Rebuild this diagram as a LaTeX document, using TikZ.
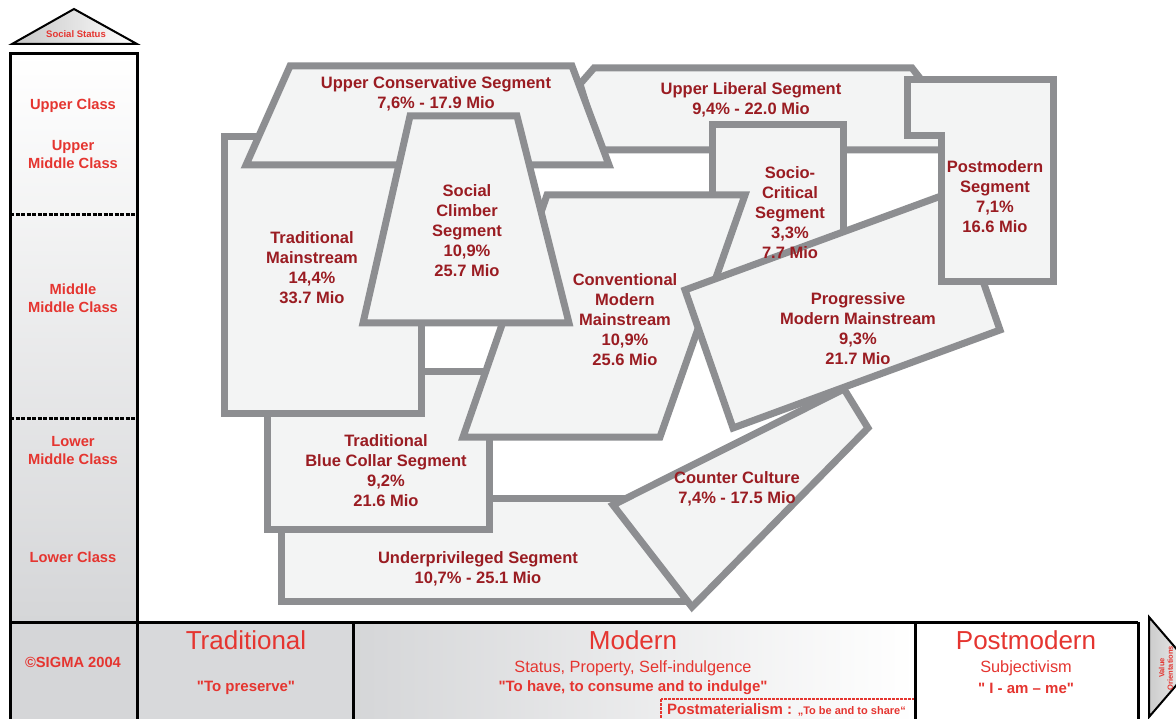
\documentclass[tikz,border=0pt]{standalone}
\usepackage{fontspec}
\setmainfont{Liberation Sans}[Ligatures=TeXOff]
\definecolor{segline}{HTML}{8D8E91}
\definecolor{segfill}{HTML}{F3F4F4}
\definecolor{segtext}{HTML}{9A1C22}
\definecolor{axisred}{HTML}{E53530}
\definecolor{panelgray}{HTML}{D5D6D8}
\newcommand\segfont{\bfseries\fontsize{16.5}{20}\selectfont}
\newcommand\classfont{\bfseries\fontsize{14.7}{18}\selectfont}
\newcommand\epochfont{\fontsize{26}{30}\selectfont}
\newcommand\valuefont{\fontsize{16.3}{19}\selectfont}
\newcommand\mottofont{\bfseries\fontsize{15}{18}\selectfont}
\tikzset{
  seg/.style={draw=segline, fill=segfill, line width=7pt, line join=miter},
  seglabel/.style={text=segtext, font=\segfont, align=center, inner sep=0pt},
  classlabel/.style={text=axisred, font=\classfont, align=center, inner sep=0pt},
  frame/.style={draw=black, line width=3pt},
  classsep/.style={draw=black, line width=3pt, dash pattern=on 4pt off 1.5pt},
  epoch/.style={text=axisred, font=\epochfont, inner sep=0pt},
  valuetext/.style={text=axisred, font=\valuefont, inner sep=0pt},
  motto/.style={text=axisred, font=\mottofont, inner sep=0pt},
  postbox/.style={draw=axisred, line width=2pt, dash pattern=on 3pt off 1pt},
}
\begin{document}
\begin{tikzpicture}[x=1pt,y=-1pt]
\useasboundingbox (0,0) rectangle (1176,719);
\clip (0,0) rectangle (1176,719);
\fill[white] (0,0) rectangle (1176,719);

% roof above the social status column
\shade[left color=gray!45, right color=white] (12,44) -- (74,9) -- (137,44) -- cycle;
\draw[black, line width=2pt] (12,44) -- (74,9) -- (137,44) -- cycle;
\node[text=axisred, font=\bfseries\fontsize{9.5}{11}\selectfont, inner sep=0pt] (status) at (76,34) {Social Status};

% social status column and value orientation row
\shade[top color=white, bottom color=panelgray] (10,54) rectangle (137,622);
\fill[panelgray] (10,622) rectangle (137,730);
\fill[panelgray!92!white] (137,622) rectangle (353,730);
\shade[left color=panelgray, right color=white] (353,622) rectangle (915,730);
\fill[white] (915,622) rectangle (1138,730);

\draw[postbox] (661,699) rectangle (915,740);

\draw[classsep] (10,215) -- (137,215);
\draw[classsep] (10,418) -- (137,418);
\draw[frame] (10,730) -- (10,54) -- (137,54) -- (137,730);
\draw[frame] (10,622) -- (1138,622);
\draw[frame] (353,622) -- (353,730);
\draw[frame] (915,622) -- (915,730);
\draw[frame] (1138,622) -- (1138,730);

% arrow of value orientations
\shade[left color=gray!40, right color=gray!10] (1149,617) -- (1192,667) -- (1149,717) -- cycle;
\draw[black, line width=2pt] (1149,617) -- (1192,667) -- (1149,717) -- cycle;
\node[text=axisred, font=\bfseries\fontsize{7.5}{8.5}\selectfont, align=center, rotate=90, inner sep=0pt] (orient) at (1166,668) {Value\\Orientations};

% class labels
\node[classlabel] (upper) at (73,106) {Upper Class};
\node[classlabel] (uppermid) at (73,155) {Upper\\Middle Class};
\node[classlabel] (midmid) at (73,298) {Middle\\Middle Class};
\node[classlabel] (lowermid) at (73,451) {Lower\\Middle Class};
\node[classlabel] (lower) at (73,557) {Lower Class};
\node[classlabel] (sigma) at (73,662) {©SIGMA 2004};

% value orientation labels
\node[epoch] (trad) at (246,640) {Traditional};
\node[motto] (tradmotto) at (246,688) {"To preserve"};
\node[epoch] (mod) at (633,640) {Modern};
\node[valuetext] (modvalues) at (633,668) {Status, Property, Self-indulgence};
\node[motto] (modmotto) at (633,688) {"To have, to consume and to indulge"};
\node[epoch] (pmod) at (1026,640) {Postmodern};
\node[valuetext] (pmodvalues) at (1026,668) {Subjectivism};
\node[motto] (pmodmotto) at (1026,688) {" I - am – me"};
\node[anchor=west, text=axisred, inner sep=0pt, font=\bfseries\fontsize{15}{17}\selectfont] (postmat) at (667,710)
  {Postmaterialism : {\fontsize{11}{13}\selectfont „To be and to share“}};

% milieu segments, back to front
\draw[seg] (281,498) rectangle (688,601);
\draw[seg] (267,372) rectangle (489,529);
\draw[seg] (224,137) rectangle (421,413);
\draw[seg] (580,84) -- (594,68) -- (912,68) -- (926,86) -- (960,86) -- (960,150) -- (600,150) -- cycle;
\draw[seg] (290,66) -- (572,66) -- (609,165) -- (246,165) -- cycle;
\draw[seg] (712,125) rectangle (843,288);
\draw[seg] (547,195) -- (745,195) -- (660,437) -- (463,437) -- cycle;
\draw[seg] (410,116) -- (517,116) -- (569,323) -- (363,323) -- cycle;
\draw[seg] (613,505) -- (844,389) -- (868,428) -- (692,607) -- cycle;
\draw[seg] (685,290) -- (952,192) -- (1000,330) -- (733,428) -- cycle;
\draw[seg] (907,80) -- (1053,80) -- (1053,282) -- (941,282) -- (941,136) -- (907,136) -- cycle;

% milieu names and sizes
\node[seglabel] (under) at (478,569) {Underprivileged Segment\\10,7\% - 25.1 Mio};
\node[seglabel] (blue) at (386,471) {Traditional\\Blue Collar Segment\\9,2\%\\21.6 Mio};
\node[seglabel] (tradmain) at (312,268) {Traditional\\Mainstream\\14,4\%\\33.7 Mio};
\node[seglabel] (uplib) at (751,100) {Upper Liberal Segment\\9,4\% - 22.0 Mio};
\node[seglabel] (upcons) at (436,94) {Upper Conservative Segment\\7,6\% - 17.9 Mio};
\node[seglabel] (critical) at (790,213) {Socio-\\Critical\\Segment\\3,3\%\\7.7 Mio};
\node[seglabel] (convmod) at (625,320) {Conventional\\Modern\\Mainstream\\10,9\%\\25.6 Mio};
\node[seglabel] (climber) at (467,231) {Social\\Climber\\Segment\\10,9\%\\25.7 Mio};
\node[seglabel] (counter) at (737,489) {Counter Culture\\7,4\% - 17.5 Mio};
\node[seglabel] (progmod) at (858,329) {Progressive\\Modern Mainstream\\9,3\%\\21.7 Mio};
\node[seglabel] (postseg) at (995,197) {Postmodern\\Segment\\7,1\%\\16.6 Mio};
\end{tikzpicture}
\end{document}
